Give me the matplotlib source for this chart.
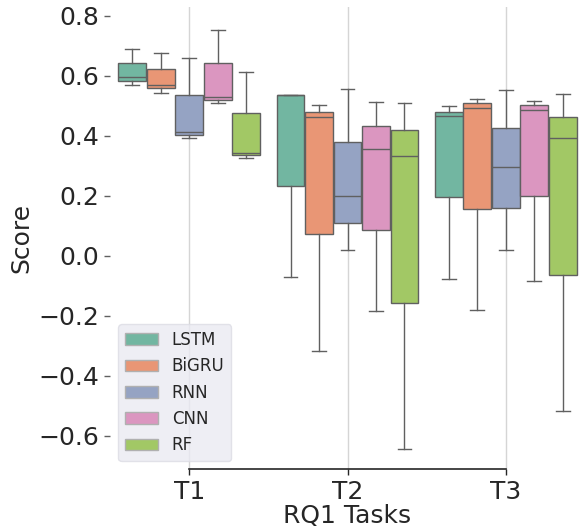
import matplotlib
matplotlib.use("Agg")
import matplotlib.pyplot as plt
from matplotlib.patches import Patch
import seaborn as sns

tasks = ["T1", "T2", "T3"]
models = ["LSTM", "BiGRU", "RNN", "CNN", "RF"]

# rows: models, columns: tasks
whislo = [[0.569, -0.070, -0.076],
          [0.544, -0.316, -0.180],
          [0.394, 0.020, 0.020],
          [0.509, -0.185, -0.084],
          [0.325, -0.643, -0.518]]
q1 = [[0.584, 0.233, 0.196],
      [0.558, 0.073, 0.157],
      [0.403, 0.111, 0.159],
      [0.520, 0.086, 0.201],
      [0.335, -0.157, -0.064]]
med = [[0.597, 0.537, 0.465],
       [0.568, 0.462, 0.491],
       [0.413, 0.201, 0.295],
       [0.530, 0.357, 0.487],
       [0.344, 0.332, 0.392]]
q3 = [[0.642, 0.537, 0.480],
      [0.622, 0.480, 0.508],
      [0.537, 0.378, 0.425],
      [0.642, 0.431, 0.502],
      [0.477, 0.418, 0.464]]
whishi = [[0.689, 0.537, 0.498],
          [0.676, 0.502, 0.524],
          [0.660, 0.557, 0.552],
          [0.754, 0.512, 0.515],
          [0.614, 0.509, 0.538]]

base_colors = ["#66c2a5", "#fc8d62", "#8da0cb", "#e78ac3", "#a6d854"]
colors = [sns.desaturate(c, 0.75) for c in base_colors]
line_color = "#606060"
text_color = "#262626"

plt.rcParams["font.family"] = ["DejaVu Sans"]

fig = plt.figure(figsize=(5.8, 5.28), dpi=100)
ax = fig.add_axes([110 / 580, 1 - 469.3 / 528, 475 / 580, (469.3 - 7.3) / 528])

group_width = 0.9
bw = group_width / len(models)
lw = 1.0
for i, m in enumerate(models):
    stats = []
    for j, t in enumerate(tasks):
        stats.append(dict(whislo=whislo[i][j], q1=q1[i][j], med=med[i][j],
                          q3=q3[i][j], whishi=whishi[i][j], fliers=[]))
    positions = [j + (i - 2) * bw for j in range(len(tasks))]
    ax.bxp(stats, positions=positions, widths=bw * 0.98, patch_artist=True,
           showfliers=False, manage_ticks=False,
           boxprops=dict(facecolor=colors[i], edgecolor=line_color, linewidth=lw),
           medianprops=dict(color=line_color, linewidth=lw),
           whiskerprops=dict(color=line_color, linewidth=lw),
           capprops=dict(color=line_color, linewidth=lw))

ax.set_xlim(-0.5, 2.5)
ax.set_ylim(-0.711, 0.828)
ax.set_xticks(range(len(tasks)))
ax.set_xticklabels(tasks)
ax.set_yticks([-0.6, -0.4, -0.2, 0.0, 0.2, 0.4, 0.6, 0.8])
ax.set_yticklabels(["\u22120.6", "\u22120.4", "\u22120.2", "0.0", "0.2", "0.4", "0.6", "0.8"])
ax.tick_params(axis="both", labelsize=18, colors=text_color, length=4, width=1, pad=4)
ax.tick_params(axis="y", colors=line_color, labelcolor=text_color)
ax.grid(axis="x", color="#d5d5d5", linewidth=1)
ax.set_axisbelow(True)
for s in ["top", "right", "left"]:
    ax.spines[s].set_visible(False)
ax.spines["bottom"].set_bounds(0, 2)
ax.spines["bottom"].set_color(text_color)
ax.spines["bottom"].set_linewidth(1.2)

ax.set_xlabel("RQ1 Tasks", fontsize=18, color=text_color, labelpad=0)
ax.set_ylabel("Score", fontsize=18, color=text_color, labelpad=3)

handles = [Patch(facecolor=colors[i], edgecolor="#b0b0b0", label=m) for i, m in enumerate(models)]
leg = ax.legend(handles=handles, loc="lower left", fontsize=12, frameon=True,
                facecolor="#eaeaf2", edgecolor="#dcdce4", framealpha=0.8,
                labelcolor=text_color)

fig.savefig("out.png", dpi=100)
